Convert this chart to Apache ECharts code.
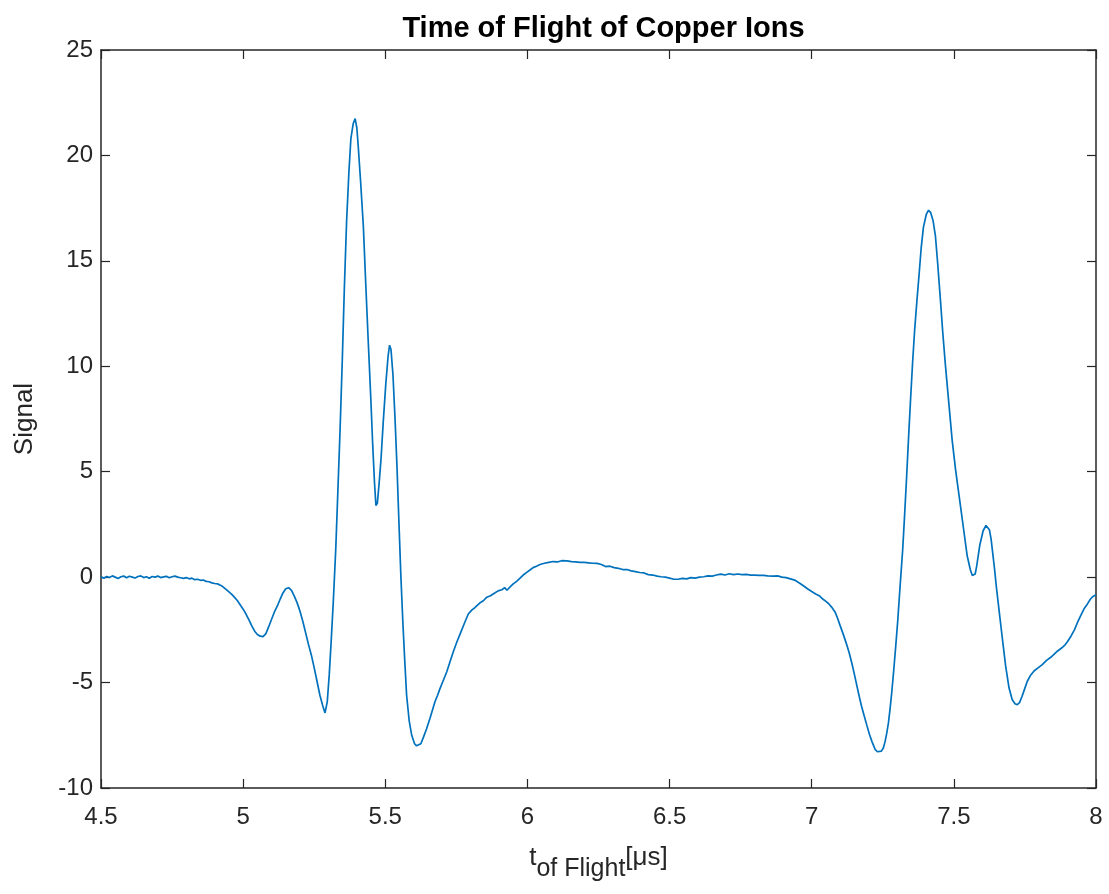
<!DOCTYPE html>
<html>
<head>
<meta charset="utf-8">
<script src="https://cdn.jsdelivr.net/npm/echarts@6/dist/echarts.min.js"></script>
<style>
html,body{margin:0;padding:0;background:#fff;}
#chart{width:1109px;height:894px;}
</style>
</head>
<body>
<div id="chart"></div>
<script>
const titleText = 'Time of Flight of Copper Ions';
const yAxisName = 'Signal';
const xTickValues = [4.5, 5, 5.5, 6, 6.5, 7, 7.5, 8];
const yTickValues = [-10, -5, 0, 5, 10, 15, 20, 25];

const tValues = [
4.50,4.51,4.52,4.53,4.54,4.55,4.56,4.57,4.58,4.59,
4.60,4.61,4.62,4.63,4.64,4.65,4.66,4.67,4.68,4.69,
4.70,4.71,4.72,4.73,4.74,4.75,4.76,4.77,4.78,4.79,
4.80,4.81,4.82,4.83,4.84,4.85,4.86,4.87,4.88,4.89,
4.90,4.91,4.92,4.93,4.94,4.95,4.96,4.97,4.98,4.99,
5.00,5.01,5.02,5.03,5.04,5.05,5.06,5.07,5.08,5.09,
5.10,5.11,5.12,5.13,5.14,5.15,5.16,5.17,5.18,5.19,
5.20,5.21,5.22,5.23,5.24,5.25,5.26,5.27,5.28,5.288,
5.296,5.303,5.309,5.317,5.326,5.333,5.341,5.349,5.356,5.364,
5.372,5.379,5.387,5.394,5.400,5.405,5.413,5.423,5.431,5.440,
5.449,5.456,5.462,5.467,5.472,5.478,5.485,5.493,5.502,5.510,
5.515,5.520,5.527,5.534,5.541,5.548,5.555,5.562,5.569,5.575,
5.584,5.593,5.603,5.610,5.616,5.625,5.634,5.645,5.657,5.666,
5.675,5.684,5.692,5.704,5.716,5.728,5.739,5.751,5.763,5.778,
5.792,5.805,5.815,5.821,5.835,5.845,5.857,5.870,5.885,5.897,
5.910,5.920,5.928,5.940,5.950,5.962,5.974,5.985,6.000,6.010,
6.020,6.032,6.044,6.060,6.075,6.090,6.105,6.120,6.139,6.155,
6.170,6.185,6.200,6.215,6.230,6.245,6.260,6.275,6.290,6.305,
6.320,6.335,6.350,6.365,6.380,6.395,6.410,6.425,6.441,6.456,
6.470,6.485,6.500,6.515,6.530,6.545,6.560,6.575,6.590,6.605,
6.620,6.635,6.650,6.665,6.680,6.695,6.710,6.725,6.740,6.755,
6.770,6.785,6.800,6.815,6.830,6.845,6.864,6.880,6.895,6.910,
6.925,6.940,6.959,6.972,6.985,7.000,7.014,7.028,7.040,7.050,
7.059,7.070,7.082,7.091,7.100,7.112,7.123,7.132,7.141,7.150,
7.158,7.167,7.176,7.185,7.194,7.203,7.212,7.223,7.231,7.238,
7.245,7.252,7.258,7.264,7.270,7.276,7.282,7.288,7.296,7.303,
7.311,7.320,7.327,7.334,7.341,7.348,7.355,7.362,7.370,7.378,
7.385,7.393,7.403,7.411,7.418,7.427,7.435,7.443,7.453,7.461,
7.470,7.482,7.494,7.506,7.515,7.523,7.535,7.547,7.558,7.565,
7.570,7.575,7.580,7.591,7.603,7.613,7.620,7.625,7.631,7.637,
7.643,7.649,7.655,7.661,7.670,7.682,7.694,7.705,7.715,7.723,
7.731,7.740,7.749,7.758,7.770,7.782,7.796,7.811,7.826,7.841,
7.853,7.865,7.880,7.892,7.900,7.912,7.924,7.935,7.947,7.958,
7.970,7.980,7.988,8.000
];

const signalValues = [
0.02,-0.05,0.03,-0.02,0.06,0.00,-0.06,0.02,0.05,-0.03,
0.04,0.00,-0.04,0.03,0.06,-0.02,0.02,-0.05,0.03,0.00,
0.05,-0.02,0.01,0.04,-0.03,0.02,0.05,0.00,-0.03,-0.06,
-0.02,-0.08,-0.05,-0.12,-0.10,-0.15,-0.14,-0.20,-0.22,-0.27,
-0.30,-0.32,-0.38,-0.47,-0.58,-0.70,-0.82,-0.96,-1.12,-1.32,
-1.52,-1.75,-2.02,-2.30,-2.55,-2.72,-2.80,-2.82,-2.68,-2.35,
-2.00,-1.65,-1.38,-1.05,-0.75,-0.55,-0.50,-0.63,-0.90,-1.22,
-1.62,-2.10,-2.65,-3.20,-3.70,-4.30,-4.95,-5.60,-6.10,-6.44,
-5.9,-4.6,-3.2,-1.2,1.4,4.0,7.0,10.4,13.7,16.9,
19.2,20.8,21.5,21.75,21.3,20.4,18.8,16.6,14.0,11.2,
8.5,6.2,4.5,3.4,3.5,4.4,5.6,7.4,9.2,10.5,
11.0,10.8,9.6,7.6,5.3,2.6,0.0,-2.2,-4.1,-5.6,
-6.8,-7.5,-7.9,-8.0,-8.05,-7.9,-7.6,-7.2,-6.7,-6.3,
-5.9,-5.6,-5.3,-4.9,-4.5,-4.0,-3.55,-3.1,-2.7,-2.2,
-1.75,-1.55,-1.45,-1.36,-1.2,-1.12,-0.95,-0.88,-0.75,-0.65,
-0.6,-0.5,-0.62,-0.45,-0.32,-0.2,-0.05,0.1,0.25,0.35,
0.45,0.52,0.6,0.66,0.7,0.74,0.72,0.78,0.77,0.74,
0.72,0.7,0.7,0.68,0.66,0.65,0.6,0.5,0.52,0.45,
0.42,0.36,0.36,0.3,0.26,0.22,0.2,0.12,0.1,0.05,
0.02,0.0,-0.05,-0.1,-0.1,-0.06,-0.08,-0.02,-0.05,0.0,
0.02,0.06,0.05,0.1,0.14,0.1,0.16,0.12,0.15,0.12,
0.13,0.1,0.1,0.08,0.08,0.06,0.05,0.06,0.0,-0.02,
-0.08,-0.14,-0.3,-0.42,-0.55,-0.68,-0.8,-0.9,-1.05,-1.15,
-1.25,-1.42,-1.65,-1.95,-2.3,-2.75,-3.2,-3.6,-4.07,-4.6,
-5.1,-5.65,-6.16,-6.6,-7.03,-7.45,-7.8,-8.17,-8.28,-8.3,
-8.25,-8.1,-7.8,-7.4,-6.9,-6.2,-5.4,-4.5,-3.2,-2.0,
-0.4,1.3,3.0,4.8,6.7,8.5,10.2,11.7,13.1,14.4,
15.6,16.6,17.2,17.4,17.3,16.9,16.2,14.9,13.1,11.6,
10.1,8.3,6.5,5.1,4.2,3.4,2.2,1.0,0.35,0.08,
0.0,0.15,0.5,1.5,2.2,2.45,2.4,2.25,1.8,1.1,
0.4,-0.4,-1.1,-1.8,-2.84,-4.2,-5.25,-5.8,-6.0,-6.05,
-5.95,-5.65,-5.3,-4.95,-4.65,-4.45,-4.3,-4.15,-3.95,-3.8,
-3.65,-3.5,-3.35,-3.2,-3.05,-2.8,-2.5,-2.15,-1.8,-1.5,
-1.27,-1.05,-0.93,-0.84
];

const seriesData = tValues.map((t, i) => [t, signalValues[i]]);
const axisColor = '#262626';
const fontFam = '"Liberation Sans", Arial, Helvetica, sans-serif';

const chart = echarts.init(document.getElementById('chart'), null, {renderer: 'canvas'});

const xMin = xTickValues[0], xMax = xTickValues[xTickValues.length - 1];
const yMin = yTickValues[0], yMax = yTickValues[yTickValues.length - 1];

const gridLeft = 101, gridRight = 13, gridTop = 50, gridBottom = 106;
const plotCenterX = gridLeft + (1109 - gridLeft - gridRight) / 2;

const baseX = {
  type: 'value', min: xMin, max: xMax, interval: 0.5,
  axisLine: {show: true, onZero: false, lineStyle: {color: axisColor, width: 1.5}},
  axisTick: {show: true, inside: true, length: 9, lineStyle: {color: axisColor, width: 1.2}},
  splitLine: {show: false}
};
const baseY = {
  type: 'value', min: yMin, max: yMax, interval: 5,
  axisLine: {show: true, onZero: false, lineStyle: {color: axisColor, width: 1.5}},
  axisTick: {show: true, inside: true, length: 9, lineStyle: {color: axisColor, width: 1.2}},
  splitLine: {show: false}
};

chart.setOption({
  animation: false,
  backgroundColor: '#ffffff',
  title: {
    text: titleText,
    left: plotCenterX,
    textAlign: 'center',
    top: 9,
    textStyle: {fontFamily: fontFam, fontWeight: 'bold', fontSize: 29, color: '#000000'}
  },
  grid: {left: gridLeft, right: gridRight, top: gridTop, bottom: gridBottom, containLabel: false},
  xAxis: [
    Object.assign({}, baseX, {
      position: 'bottom',
      axisLabel: {show: true, margin: 17, fontFamily: fontFam, fontSize: 24, color: axisColor},
      name: '{t|t}{sub|of Flight}{u|[μs]}',
      nameLocation: 'middle',
      nameGap: 57,
      nameTextStyle: {
        rich: {
          t: {fontFamily: fontFam, fontSize: 26, lineHeight: 30, color: axisColor, verticalAlign: 'top'},
          sub: {fontFamily: fontFam, fontSize: 25, lineHeight: 30, color: axisColor, padding: [12, 0, 0, 0], verticalAlign: 'top'},
          u: {fontFamily: fontFam, fontSize: 26, lineHeight: 30, color: axisColor, verticalAlign: 'top'}
        }
      }
    }),
    Object.assign({}, baseX, {position: 'top', axisLabel: {show: false}})
  ],
  yAxis: [
    Object.assign({}, baseY, {
      position: 'left',
      axisLabel: {show: true, margin: 8, fontFamily: fontFam, fontSize: 24, color: axisColor},
      name: yAxisName,
      nameLocation: 'middle',
      nameGap: 63,
      nameTextStyle: {fontFamily: fontFam, fontSize: 26, color: axisColor}
    }),
    Object.assign({}, baseY, {position: 'right', axisLabel: {show: false}})
  ],
  series: [{
    type: 'line',
    xAxisIndex: 0,
    yAxisIndex: 0,
    data: seriesData,
    showSymbol: false,
    smooth: false,
    lineStyle: {color: '#0072BD', width: 1.7},
    clip: true
  }]
});
</script>
</body>
</html>
